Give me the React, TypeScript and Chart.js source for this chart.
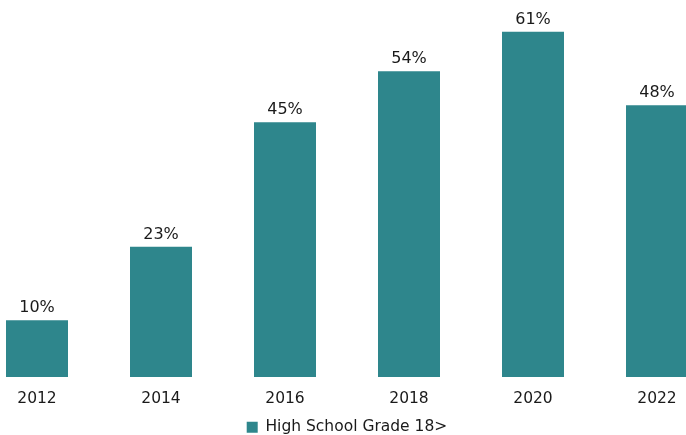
import React, { useEffect, useRef } from "react";
import { Chart, registerables } from "chart.js";

Chart.register(...registerables);

const categories = ["2012", "2014", "2016", "2018", "2020", "2022"];
const values = [10, 23, 45, 54, 61, 48];
const seriesName = "High School Grade 18>";

const FONT = "'DejaVu Sans', Verdana, sans-serif";
const FS = 15.5;

const labelPlugin = {
  id: "barLabels",
  afterDatasetsDraw(chart: any) {
    const ctx = chart.ctx;
    const meta = chart.getDatasetMeta(0);
    ctx.save();
    ctx.font = `16px ${FONT}`;
    ctx.fillStyle = "#1a1a1a";
    ctx.textAlign = "center";
    ctx.textBaseline = "bottom";
    meta.data.forEach((bar: any, i: number) => {
      ctx.fillText(values[i] + "%", bar.x, bar.y - 4);
    });
    ctx.restore();
  },
};

export default function App() {
  const ref = useRef<HTMLCanvasElement>(null);
  useEffect(() => {
    document.body.style.margin = "0";
    const chart = new Chart(ref.current!, {
      type: "bar",
      data: {
        labels: categories,
        datasets: [
          {
            label: seriesName,
            data: values,
            backgroundColor: "#2e868c",
            borderWidth: 0,
            barPercentage: 0.5,
            categoryPercentage: 1,
          },
        ],
      },
      options: {
        animation: false,
        responsive: true,
        maintainAspectRatio: false,
        layout: { padding: { top: 9, left: 0, right: 0, bottom: 0 } },
        scales: {
          x: {
            grid: { display: false },
            border: { display: false },
            ticks: { color: "#1a1a1a", font: { family: FONT, size: FS }, padding: 5 },
            afterFit: (scale: any) => {
              scale.height += 4;
            },
          },
          y: { display: false, min: 0, max: 65 },
        },
        plugins: {
          legend: {
            position: "bottom",
            labels: {
              color: "#1a1a1a",
              font: { family: FONT, size: FS },
              boxWidth: 11,
              boxHeight: 11,
              padding: 2,
            },
          },
          tooltip: { enabled: false },
        },
      },
      plugins: [labelPlugin],
    });
    return () => chart.destroy();
  }, []);
  return (
    <div style={{ position: "relative", width: 686, height: 435, overflow: "hidden" }}>
      <div style={{ position: "absolute", left: -25, top: 0, width: 744, height: 445 }}>
        <canvas ref={ref} />
      </div>
    </div>
  );
}
